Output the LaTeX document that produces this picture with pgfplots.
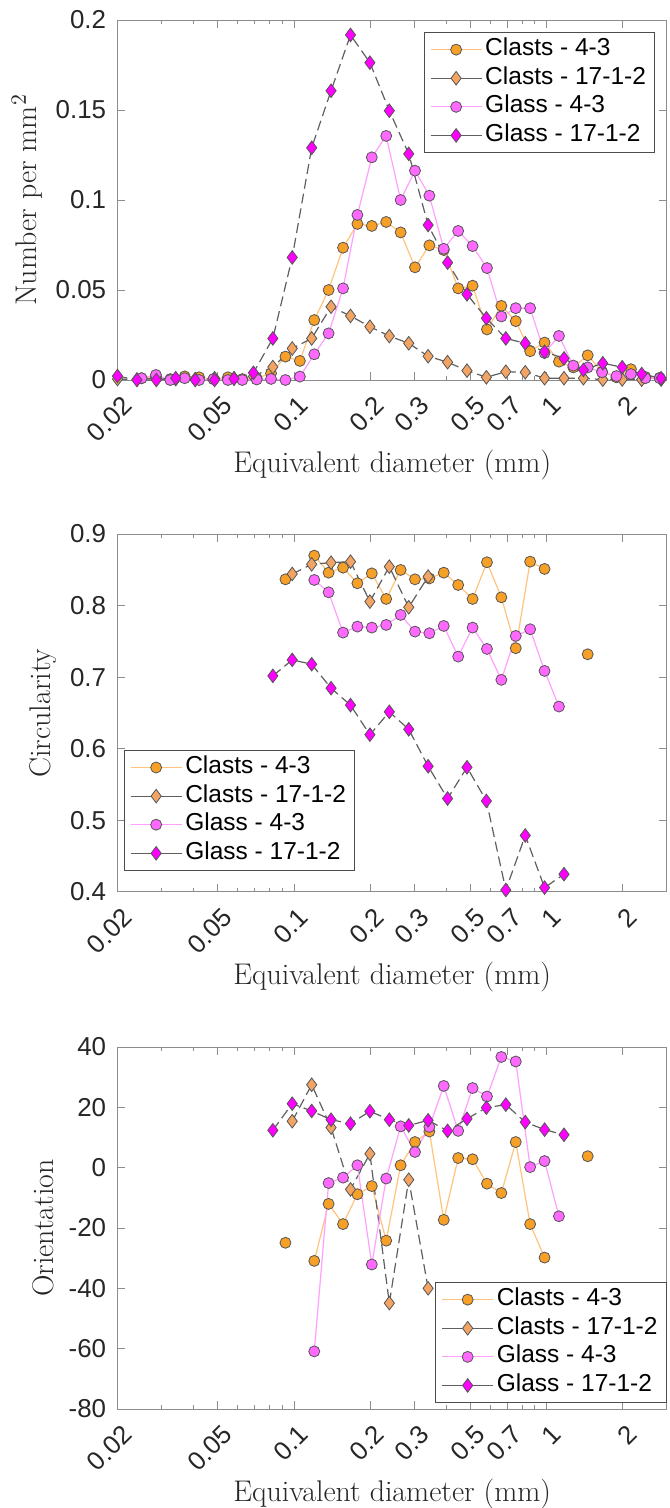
\documentclass[border=0pt]{standalone}
\usepackage{fontspec}
\usepackage{pgfplots}
\pgfplotsset{compat=1.18}
\newfontfamily\arial{Liberation Sans}
\definecolor{clastA}{RGB}{247,160,40}
\definecolor{clastB}{RGB}{242,164,100}
\definecolor{glassA}{RGB}{255,105,255}
\definecolor{glassB}{RGB}{255,0,255}
\definecolor{lineA}{RGB}{255,195,125}
\definecolor{lineG}{RGB}{255,160,255}
\definecolor{dashg}{RGB}{95,95,95}
\definecolor{edge}{RGB}{85,85,85}

\pgfplotsset{
  every axis/.append style={
    scale only axis, width=274.75bp,
    xmode=log, xmin=0.02, xmax=3,
    xtick={0.02,0.05,0.1,0.2,0.3,0.5,0.7,1,2},
    xticklabels={0.02,0.05,0.1,0.2,0.3,0.5,0.7,1,2},
    minor xtick={0.03,0.04,0.06,0.07,0.08,0.09,0.4,0.6,0.8,0.9},
    tick align=inside, xtick pos=both, ytick pos=both,
    major tick length=4bp, minor tick length=2bp,
    axis line style={draw=black!45, line width=0.5bp},
    every tick/.style={draw=black!45, line width=0.5bp},
    xticklabel style={xshift=5bp, rotate=45, anchor=east, inner sep=0bp,
      font=\arial\fontsize{13}{15}\selectfont, text=black!85},
    xticklabel shift=10.5bp,
    yticklabel style={font=\arial\fontsize{13}{15}\selectfont, text=black!85, inner sep=0bp},
    yticklabel shift=5.5bp,
    xlabel={Equivalent diameter (mm)},
    xlabel style={at={(axis description cs:0.5,0)}, anchor=base, yshift=-46.25bp,
      font=\fontsize{15}{18}\selectfont, text=black!85},
    ylabel style={anchor=center, font=\fontsize{15}{18}\selectfont, text=black!85},
    clip=false, unbounded coords=jump,
    legend cell align=left,
    legend style={font=\arial\fontsize{12.3}{14}\selectfont, draw=black!70, line width=0.5bp,
      inner xsep=3bp, inner ysep=1.3bp, row sep=0bp,
      nodes={inner sep=1.5bp, text height=8.7bp, text depth=2.6bp}},
    legend image code/.code={\draw[solid, mark repeat=2, mark phase=2] plot coordinates {(0cm,0cm) (0.45cm,0cm) (0.9cm,0cm)};},
  },
  clA/.style={color=lineA, line width=0.6bp, mark=*, mark size=2.75bp,
    mark options={fill=clastA, draw=edge, line width=0.4bp, solid}},
  clB/.style={color=dashg, line width=0.6bp, dash pattern=on 5bp off 2.5bp, mark=diamond*, mark size=3.4bp,
    mark options={fill=clastB, draw=edge, line width=0.4bp, solid}},
  glA/.style={color=lineG, line width=0.6bp, mark=*, mark size=2.75bp,
    mark options={fill=glassA, draw=edge, line width=0.4bp, solid}},
  glB/.style={color=dashg, line width=0.6bp, dash pattern=on 5bp off 2.5bp, mark=diamond*, mark size=3.4bp,
    mark options={fill=glassB, draw=edge, line width=0.4bp, solid}},
}

\begin{document}
\begin{tikzpicture}
\path[use as bounding box] (-58.75bp,10bp) rectangle (276.25bp,-744bp);

% size distribution
\begin{axis}[at={(0,0)}, anchor=north west, height=180bp,
  ymin=0, ymax=0.2, ytick={0,0.05,0.1,0.15,0.2}, yticklabels={0,0.05,0.1,0.15,0.2},
  ylabel={Number per mm$^2$}, ylabel style={at={(axis description cs:-0.1647,0.5)}},
  legend style={at={(0.979,0.966)}, anchor=north east}]
\addplot[clA] coordinates {(0.0249,0.001)(0.02839,0.002)(0.03237,0.0005)(0.03691,0.002)(0.04209,0.0015)(0.04799,0.0005)(0.05472,0.0015)(0.0624,0.0005)(0.07115,0.001)(0.08112,0.0037)(0.0925,0.013)(0.1055,0.0106)(0.1203,0.0333)(0.1371,0.050)(0.1564,0.0735)(0.1783,0.0867)(0.2033,0.0856)(0.2318,0.0878)(0.2644,0.082)(0.3014,0.0626)(0.3437,0.0748)(0.3919,0.0722)(0.4469,0.0509)(0.5096,0.0524)(0.581,0.0281)(0.6625,0.0412)(0.7555,0.0327)(0.8614,0.016)(0.9822,0.0208)(1.12,0.0102)(1.277,0.007)(1.456,0.0137)(1.66,0.0046)(1.893,0.0015)(2.159,0.006)(2.462,0.0017)(2.807,0.0012)};
\addlegendentry{Clasts - 4-3}
\addplot[clB] coordinates {(0.02,0.0005)(0.02388,0.0003)(0.0285,0.001)(0.03402,0.0005)(0.04061,0.0005)(0.04848,0.001)(0.05787,0.001)(0.06908,0.002)(0.08246,0.0072)(0.09839,0.0175)(0.1175,0.0231)(0.1402,0.0407)(0.1674,0.0356)(0.1998,0.0296)(0.2385,0.0244)(0.2847,0.0204)(0.3398,0.0132)(0.4057,0.0099)(0.4842,0.0052)(0.578,0.0015)(0.69,0.0046)(0.8237,0.0043)(0.9826,0.001)(1.173,0.001)(1.4,0.001)(1.671,0.0002)(1.995,0.0003)(2.382,0.0002)(2.843,0.0002)};
\addlegendentry{Clasts - 17-1-2}
\addplot[glA] coordinates {(0.0249,0.001)(0.02839,0.0028)(0.03237,0)(0.03691,0.001)(0.04209,0)(0.04799,0.0005)(0.05472,0)(0.0624,0)(0.07115,0.0003)(0.08112,0.0006)(0.0925,0)(0.1055,0.0019)(0.1203,0.0143)(0.1371,0.0259)(0.1564,0.0509)(0.1783,0.0917)(0.2033,0.1237)(0.2318,0.1356)(0.2644,0.1)(0.3014,0.1163)(0.3437,0.1024)(0.3919,0.0729)(0.4469,0.0828)(0.5096,0.0744)(0.581,0.0622)(0.6625,0.0353)(0.7555,0.0399)(0.8614,0.0399)(0.9822,0.015)(1.12,0.0245)(1.277,0.008)(1.456,0.007)(1.66,0.0043)(1.893,0.0022)(2.159,0.0033)(2.462,0.001)(2.807,0.001)};
\addlegendentry{Glass - 4-3}
\addplot[glB] coordinates {(0.02,0.0022)(0.02388,0)(0.0285,0)(0.03402,0.001)(0.04061,0)(0.04848,0)(0.05787,0.0007)(0.06908,0.004)(0.08246,0.0231)(0.09839,0.0681)(0.1175,0.129)(0.1402,0.1607)(0.1674,0.1917)(0.1998,0.1763)(0.2385,0.1496)(0.2847,0.1256)(0.3398,0.0861)(0.4057,0.0652)(0.4842,0.0476)(0.578,0.0343)(0.69,0.0231)(0.8237,0.0204)(0.9826,0.0157)(1.173,0.012)(1.4,0.0056)(1.671,0.0093)(1.995,0.0071)(2.382,0.0033)(2.843,0.001)};
\addlegendentry{Glass - 17-1-2}
\end{axis}

% circularity
\begin{axis}[at={(0,-257bp)}, anchor=north west, height=179bp,
  ymin=0.4, ymax=0.9, ytick={0.4,0.5,0.6,0.7,0.8,0.9}, yticklabels={0.4,0.5,0.6,0.7,0.8,0.9},
  ylabel={Circularity}, ylabel style={at={(axis description cs:-0.1357,0.5)}},
  legend style={at={(0.011,0.0595)}, anchor=south west}]
\addplot[clA] coordinates {(0.0925,0.8367)(0.1055,nan)(0.1203,0.8698)(0.1371,0.846)(0.1564,0.853)(0.1783,0.8312)(0.2033,0.845)(0.2318,0.8093)(0.2644,0.8498)(0.3014,0.8367)(0.3437,0.838)(0.3919,0.846)(0.4469,0.8288)(0.5096,0.8093)(0.581,0.8605)(0.6625,0.8116)(0.7555,0.7405)(0.8614,0.8614)(0.9822,0.8512)(1.12,nan)(1.456,0.732)};
\addlegendentry{Clasts - 4-3}
\addplot[clB] coordinates {(0.09839,0.8442)(0.1175,0.8577)(0.1402,0.86)(0.1674,0.8614)(0.1998,0.8056)(0.2385,0.8544)(0.2847,0.7977)(0.3398,0.8405)};
\addlegendentry{Clasts - 17-1-2}
\addplot[glA] coordinates {(0.1203,0.8358)(0.1371,0.8186)(0.1564,0.7623)(0.1783,0.7707)(0.2033,0.7693)(0.2318,0.773)(0.2644,0.787)(0.3014,0.7637)(0.3437,0.7614)(0.3919,0.7716)(0.4469,0.7288)(0.5096,0.7693)(0.581,0.7395)(0.6625,0.6963)(0.7555,0.7577)(0.8614,0.767)(0.9822,0.7088)(1.12,0.659)};
\addlegendentry{Glass - 4-3}
\addplot[glB] coordinates {(0.08246,0.7019)(0.09839,0.7242)(0.1175,0.7181)(0.1402,0.6847)(0.1674,0.661)(0.1998,0.6197)(0.2385,0.6516)(0.2847,0.6272)(0.3398,0.5756)(0.4057,0.5305)(0.4842,0.5742)(0.578,0.5272)(0.69,0.4028)(0.8237,0.4789)(0.9826,0.4061)(1.173,0.4249)};
\addlegendentry{Glass - 17-1-2}
\end{axis}

% orientation
\begin{axis}[at={(0,-513.5bp)}, anchor=north west, height=181bp,
  ymin=-80, ymax=40, ytick={-80,-60,-40,-20,0,20,40}, yticklabels={-80,-60,-40,-20,0,20,40},
  ylabel={Orientation}, ylabel style={at={(axis description cs:-0.1357,0.5)}},
  legend style={at={(1,0.017)}, anchor=south east}]
\addplot[clA] coordinates {(0.0925,-24.9)(0.1055,nan)(0.1203,-30.9)(0.1371,-12)(0.1564,-18.7)(0.1783,-8.8)(0.2033,-6.1)(0.2318,-24.2)(0.2644,0.8)(0.3014,8.5)(0.3437,12)(0.3919,-17.3)(0.4469,3.2)(0.5096,2.8)(0.581,-5.3)(0.6625,-8.4)(0.7555,8.5)(0.8614,-18.7)(0.9822,-29.8)(1.12,nan)(1.456,3.8)};
\addlegendentry{Clasts - 4-3}
\addplot[clB] coordinates {(0.09839,15.4)(0.1175,27.5)(0.1402,13.3)(0.1674,-7.2)(0.1998,4.6)(0.2385,-44.9)(0.2847,-4.0)(0.3398,-40)};
\addlegendentry{Clasts - 17-1-2}
\addplot[glA] coordinates {(0.1203,-60.9)(0.1371,-5.1)(0.1564,-3.3)(0.1783,0.8)(0.2033,-32.1)(0.2318,-3.6)(0.2644,13.7)(0.3014,5.2)(0.3437,13.5)(0.3919,27.1)(0.4469,12.2)(0.5096,26.4)(0.581,23.6)(0.6625,36.7)(0.7555,35.2)(0.8614,0.2)(0.9822,2.2)(1.12,-16.1)};
\addlegendentry{Glass - 4-3}
\addplot[glB] coordinates {(0.08246,12.4)(0.09839,21.2)(0.1175,18.8)(0.1402,15.9)(0.1674,14.6)(0.1998,18.7)(0.2385,15.9)(0.2847,14.0)(0.3398,15.7)(0.4057,12.2)(0.4842,16.2)(0.578,19.9)(0.69,20.9)(0.8237,15.1)(0.9826,12.6)(1.173,10.9)};
\addlegendentry{Glass - 17-1-2}
\end{axis}
\end{tikzpicture}
\end{document}
